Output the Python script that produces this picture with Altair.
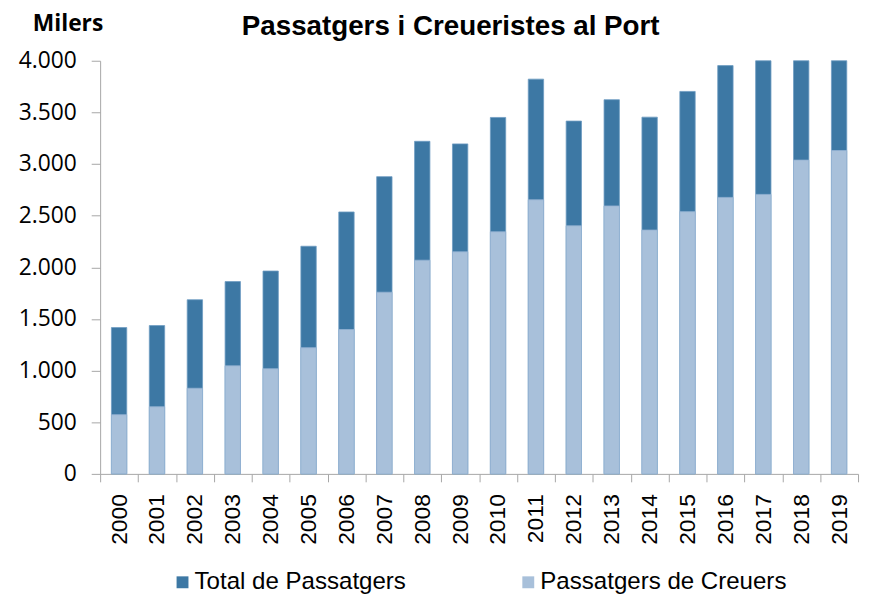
import altair as alt
import pandas as pd

years = [str(y) for y in range(2000, 2020)]
total = [1417, 1436, 1686, 1862, 1964, 2204, 2536, 2878, 3220, 3195,
         3451, 3822, 3416, 3623, 3454, 3703, 3953, 4000, 4000, 4000]
creuers = [573, 650, 829, 1046, 1018, 1222, 1398, 1759, 2069, 2150,
           2344, 2654, 2402, 2594, 2361, 2539, 2677, 2706, 3038, 3131]
series = ["Total de Passatgers", "Passatgers de Creuers"]
colors = ["#3d78a4", "#a8c0da"]
strokes = ["#6f9cc2", "#93b1d2"]
title_text = "Passatgers i Creueristes al Port"
unit_text = "Milers"
y_ticks = [0, 500, 1000, 1500, 2000, 2500, 3000, 3500, 4000]

rows = []
for s, vals in zip(series, [total, creuers]):
    for y, v in zip(years, vals):
        rows.append({"year": y, "series": s, "value": v})
df = pd.DataFrame(rows)

axis_gray = "#a6a6a6"

bars = alt.Chart(df).mark_bar(size=15.5, strokeWidth=0.8).encode(
    x=alt.X("year:N", sort=years,
            scale=alt.Scale(paddingInner=0, paddingOuter=0),
            axis=alt.Axis(title=None, labelAngle=-90, labelFont="Liberation Sans",
                          labelFontSize=23, labelColor="#000000", tickBand="extent",
                          tickSize=8, tickColor=axis_gray, domainColor=axis_gray,
                          labelPadding=12, grid=False)),
    y=alt.Y("value:Q", stack=None,
            scale=alt.Scale(domain=[0, 4000], nice=False),
            axis=alt.Axis(title=None, values=y_ticks,
                          labelExpr="replace(format(datum.value, ','), ',', '.')",
                          labelFont="Open Sans", labelFontSize=23, labelColor="#000000",
                          tickSize=9, tickColor=axis_gray, domainColor=axis_gray,
                          labelPadding=15, grid=False)),
    color=alt.Color("series:N", sort=series,
                    scale=alt.Scale(domain=series, range=colors),
                    legend=alt.Legend(orient="none", legendX=71, legendY=514,
                                      direction="horizontal", title=None,
                                      symbolType="square", symbolSize=144,
                                      symbolStrokeWidth=0, labelFont="Liberation Sans",
                                      labelFontSize=24.3, labelColor="#000000",
                                      labelLimit=500,
                                      columnPadding=111, labelOffset=0)),
    stroke=alt.Stroke("series:N", scale=alt.Scale(domain=series, range=strokes),
                      legend=None),
)

title = alt.Chart(pd.DataFrame({"t": [title_text]})).mark_text(
    font="Liberation Sans", fontSize=28, fontWeight="bold", align="left",
    baseline="alphabetic", color="#000000"
).encode(text="t:N", x=alt.value(143), y=alt.value(-25.5))

unit = alt.Chart(pd.DataFrame({"t": [unit_text]})).mark_text(
    font="Open Sans", fontSize=23, fontWeight="bold", align="left",
    baseline="alphabetic", color="#000000"
).encode(text="t:N", x=alt.value(-68), y=alt.value(-30))

chart = alt.layer(bars, title, unit).properties(
    width=765, height=417,
    autosize=alt.AutoSizeParams(type="none"),
    padding={"left": 93, "top": 50.5, "right": 5, "bottom": 119},
).configure_view(stroke="transparent")

chart.save("out.html", embed_options={"renderer": "svg", "actions": False})
